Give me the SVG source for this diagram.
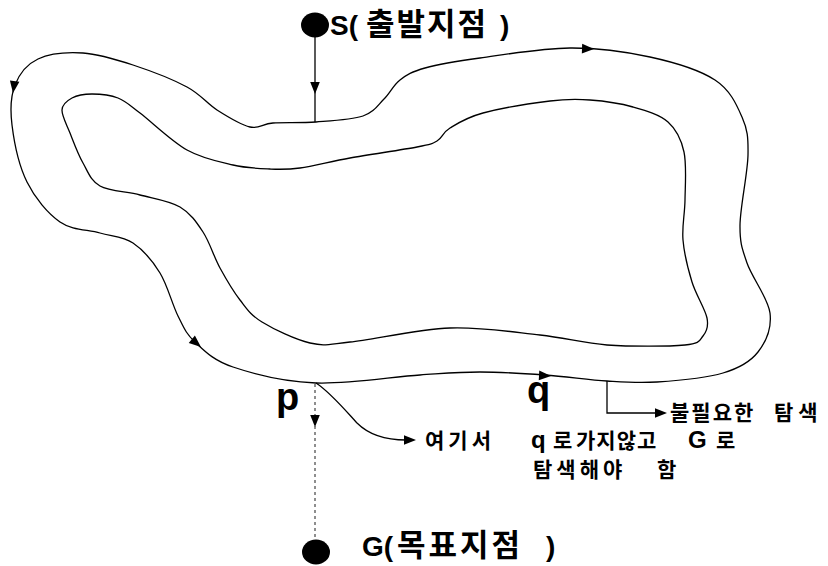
<svg xmlns="http://www.w3.org/2000/svg" xmlns:xlink="http://www.w3.org/1999/xlink" width="828" height="566" viewBox="0 0 828 566">
<style>
.ln{fill:none;stroke:#000;stroke-width:1.3}
.dash{fill:none;stroke:#444;stroke-width:1.2;stroke-dasharray:3 3}
.ah{fill:#000}
.t{font-family:"Liberation Sans","Noto Sans CJK KR",sans-serif;font-weight:bold;fill:#000}
.k{font-family:"Noto Sans CJK KR","Liberation Sans",sans-serif;font-weight:bold;fill:#000}
</style>
<defs>
<path id="ah" d="M0,0 L-12,-4.8 L-12,4.8 Z"/>
</defs>
<rect width="828" height="566" fill="#fff"/>
<g id="connectors">
<path id="outer-loop" class="ln" d="M316,122 C331,120.8 351.7,119.8 363,116 S377.8,105 384,99 S393.2,85.2 400,80 S411.7,71.7 425,68 S455.8,61.3 480,58 S541.7,48.2 570,48 S625.8,51.7 650,57 S699.7,70 715,80 S736.5,104.5 742,117 S748.3,137 748,155 S740.2,207 740,225 S742,248.3 747,263 S768.2,298.2 770,313 S765.8,342 758,352 S739.8,368 723,373 S676.3,380.7 657,382 S625.7,382.2 607,381 S566.2,376.5 545,375 S500.8,372 480,372 S447.3,373.2 420,375 S347.2,384.3 316,383 S253.2,373.8 233,367 S204.2,350.5 195,342 S183.8,327.5 178,316 S167.5,285.2 160,273 S143,249.7 133,243 S112.2,236.5 100,233 S72.2,230.5 60,222 S35,198.2 27,182 S14,141.2 12,125 S10.7,96 15,85 S26.7,64.3 38,59 S67.2,52 83,53 S115.7,59.3 133,65 S173,79.5 187,87 S206.5,103.3 217,110 S240.7,124.8 250,127 S262,123.8 273,123 S301,123.2 316,122 Z"/>
<path id="inner-loop" class="ln" d="M62,110 C62.3,104.2 67,100.7 72,98 S84.3,94 92,94 S110,94.8 118,98 S128.5,104.3 140,113 S171.5,141.3 187,150 S219.2,161.8 233,165 S258.8,168.5 270,169 S286.7,169.8 300,168 S330.5,161.5 350,158 S402.5,149.8 417,147 S431.5,144.2 437,141 S442.3,132.7 450,128 S466.3,117.5 483,113 S532.2,103.2 550,101 S576.2,99 590,100 S620,103.3 633,107 S659.5,114.5 668,122 S681.2,139 684,152 S685.2,185.3 685,200 S681.8,226.3 683,240 S688,269 692,282 S705.2,309 707,318 S706.7,331.5 703,336 S701,343.5 685,345 S631.2,346.7 607,345 S566.2,337.8 540,335 S481.7,326.8 450,328 S373.3,339.5 350,342 S324.7,346.3 310,343 S273.7,329.2 262,322 S247,309 240,300 S226.2,279.3 220,268 S209.7,242.2 203,232 S190.5,213.2 180,207 S153.3,198.5 140,195 S109.5,191.3 100,186 S88,171.8 83,163 S73.5,141.8 70,133 S61.7,115.8 62,110 Z"/>
<line class="ln" x1="315" y1="37" x2="315" y2="122"/>
<use href="#ah" class="ah" transform="translate(315,94) rotate(90)"/>
<use href="#ah" class="ah" transform="translate(594,49) rotate(2)"/>
<use href="#ah" class="ah" transform="translate(13,93) rotate(98)"/>
<use href="#ah" class="ah" transform="translate(201,347) rotate(40)"/>
<use href="#ah" class="ah" transform="translate(551,376) rotate(3)"/>
<line class="dash" x1="315" y1="384" x2="315" y2="541"/>
<use href="#ah" class="ah" transform="translate(315,427) rotate(90)"/>
<path class="ln" d="M316,383 C330,392 345,410 357,423 C368,434 385,440 406,440"/>
<use href="#ah" class="ah" transform="translate(416,440)"/>
<path class="ln" d="M607,381 V413 H658"/>
<use href="#ah" class="ah" transform="translate(667,413)"/>
</g>
<g id="node-S">
<ellipse cx="315" cy="25" rx="14" ry="12.5" fill="#000"/>
<text class="t" y="35" font-size="28"><tspan x="330">S(</tspan><tspan class="k" x="366" font-size="31" letter-spacing="2">출발지점</tspan><tspan x="500">)</tspan></text>
</g>
<g id="node-G">
<ellipse cx="316" cy="552" rx="14" ry="12.5" fill="#000"/>
<text class="t" y="556" font-size="28"><tspan x="362">G(</tspan><tspan class="k" x="397" font-size="31" letter-spacing="3">목표지점</tspan><tspan x="546">)</tspan></text>
</g>
<g id="node-p">
<text class="t" x="276" y="410" font-size="38">p</text>
</g>
<g id="node-q">
<text class="t" x="527" y="403" font-size="38">q</text>
</g>
<g id="label-unneeded">
<text class="k" y="420" font-size="21"><tspan x="670" letter-spacing="2">불필요한</tspan><tspan x="774" letter-spacing="5">탐색</tspan></text>
</g>
<g id="label-here">
<text class="k" y="448" font-size="21"><tspan x="425" letter-spacing="4">여기서</tspan><tspan class="t" x="531" font-size="24">q</tspan><tspan x="553">로</tspan><tspan x="576" letter-spacing="1">가지않고</tspan><tspan class="t" x="688" font-size="24">G</tspan><tspan x="716">로</tspan></text>
<text class="k" y="477" font-size="21"><tspan x="533" letter-spacing="4">탐색해야</tspan><tspan x="657">함</tspan></text>
</g>
</svg>
